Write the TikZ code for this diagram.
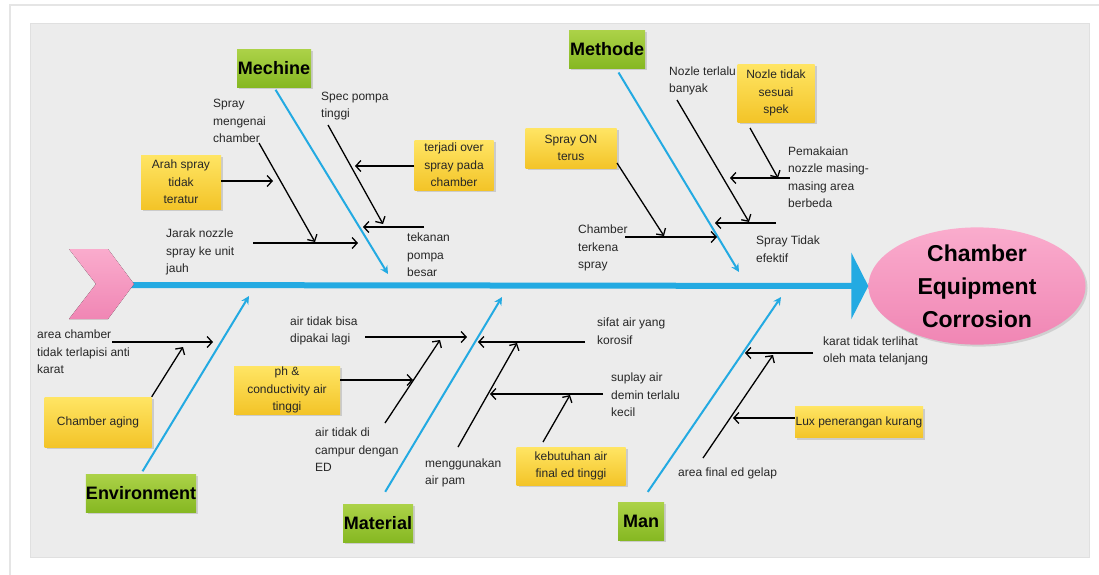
\documentclass[tikz,border=0pt]{standalone}
\usepackage{fontspec}
\setmainfont{Liberation Sans}
\usetikzlibrary{arrows.meta,shapes.geometric,shadows}
\definecolor{panel}{RGB}{236,236,236}
\definecolor{spineblue}{RGB}{35,170,226}
\definecolor{yeltop}{RGB}{255,229,100}
\definecolor{yelbot}{RGB}{243,196,40}
\definecolor{grntop}{RGB}{172,210,72}
\definecolor{grnbot}{RGB}{134,184,34}
\definecolor{pinktop}{RGB}{250,172,205}
\definecolor{pinkbot}{RGB}{240,134,180}
\tikzset{txt/.style={font=\fontsize{12}{17.5}\selectfont,text=black!85,align=left,inner sep=0pt,anchor=west},
note/.style={font=\fontsize{12}{17.5}\selectfont,text=black!85,align=center,inner sep=0pt,top color=yeltop,bottom color=yelbot,drop shadow={shadow xshift=2pt,shadow yshift=-2pt,opacity=.3}},
cat/.style={font=\fontsize{18}{20}\selectfont\bfseries,inner sep=0pt,minimum height=38pt,top color=grntop,bottom color=grnbot,drop shadow={shadow xshift=2pt,shadow yshift=-2pt,opacity=.3}},
effect/.style={ellipse,font=\fontsize{23}{33}\selectfont\bfseries,align=center,inner sep=0pt,minimum width=217pt,minimum height=116pt,top color=pinktop,bottom color=pinkbot,drop shadow={shadow xshift=2pt,shadow yshift=-2pt,opacity=.25}},
spine/.style={draw=spineblue,line width=6pt,-{Triangle[length=17pt,width=66pt]}},
bone/.style={draw=spineblue,line width=2pt,-{Stealth[length=8pt,width=8pt]}},
cause/.style={draw=black,line width=1.3pt,-{Straight Barb[length=5pt,width=11pt]}}}
\begin{document}
\begin{tikzpicture}[x=1pt,y=-1pt]
\useasboundingbox (0,0) rectangle (1099,574);
\fill[white] (0,0) rectangle (1099,574);
\draw[black!10,line width=1.5pt] (10,590) -- (10,5) -- (1110,5);
\fill[panel,draw=black!12,line width=.6pt] (30,23) rectangle (1089,557);
\coordinate (tail) at (125,285);
\node[effect] (effect) at (977,286) {Chamber\\Equipment\\Corrosion};
\draw[spine] (tail) -- (effect.west);
\fill[top color=pinktop,bottom color=pinkbot] (69,249) -- (108,249) -- (134,284) -- (108,319) -- (69,319) -- (96,284) -- cycle;
\node[cat,minimum width=74pt] (mechine) at (274,68) {Mechine};
\node[cat,minimum width=76pt] (methode) at (607,49) {Methode};
\node[cat,minimum width=106pt] (environment) at (141,493) {Environment};
\node[cat,minimum width=70pt] (material) at (378,523) {Material};
\node[cat,minimum width=46pt] (man) at (641,521) {Man};
\coordinate (mechtip) at (388,274);
\coordinate (methtip) at (739,272);
\coordinate (envtip) at (249,296);
\coordinate (mattip) at (502,297);
\coordinate (mantip) at (781,297);
\draw[bone,shorten <=3pt] (mechine.south) -- (mechtip);
\draw[bone,shorten <=5pt] (methode.-65) -- (methtip);
\draw[bone,shorten <=3pt] (environment.north) -- (envtip);
\draw[bone,shorten <=14pt] (material.north) -- (mattip);
\draw[bone,shorten <=12pt] (man.north) -- (mantip);
\node[note,minimum width=80pt,minimum height=54pt] (arah) at (181,182) {Arah spray\\tidak\\teratur};
\node[note,minimum width=79pt,minimum height=50pt] (over) at (454,165) {terjadi over\\spray pada\\chamber};
\node[note,minimum width=91pt,minimum height=40pt] (sprayon) at (571,148) {Spray ON\\terus};
\node[note,minimum width=77pt,minimum height=58pt] (nozletidak) at (776,93) {Nozle tidak\\sesuai\\spek};
\node[note,minimum width=107pt,minimum height=50pt] (aging) at (98,422) {Chamber aging};
\node[note,minimum width=106pt,minimum height=48pt] (ph) at (287,390) {ph \&\\conductivity air\\tinggi};
\node[note,minimum width=109pt,minimum height=38pt] (kebutuhan) at (571,466) {kebutuhan air\\final ed tinggi};
\node[note,minimum width=128pt,minimum height=31pt] (lux) at (859,422) {Lux penerangan kurang};
\node[txt] (sprmeng) at (213,121) {Spray\\mengenai\\chamber};
\node[txt] (jarak) at (166,252) {Jarak nozzle\\spray ke unit\\jauh};
\node[txt] (spec) at (321,106) {Spec pompa\\tinggi};
\node[txt] (tekanan) at (407,255) {tekanan\\pompa\\besar};
\node[txt] (chterkena) at (578,248) {Chamber\\terkena\\spray};
\node[txt] (nozleterlalu) at (669,81) {Nozle terlalu\\banyak};
\node[txt] (pemakaian) at (788,177) {Pemakaian\\nozzle masing-\\masing area\\berbeda};
\node[txt] (spraytidak) at (756,249) {Spray Tidak\\efektif};
\node[txt] (areach) at (37,352) {area chamber\\tidak terlapisi anti\\karat};
\node[txt] (airbisa) at (290,331) {air tidak bisa\\dipakai lagi};
\node[txt] (aircampur) at (315,450) {air tidak di\\campur dengan\\ED};
\node[txt] (sifat) at (597,331) {sifat air yang\\korosif};
\node[txt] (airpam) at (425,473) {menggunakan\\air pam};
\node[txt] (suplay) at (611,395) {suplay air\\demin terlalu\\kecil};
\node[txt] (karat) at (823,351) {karat tidak terlihat\\oleh mata telanjang};
\node[txt] (gelap) at (678,473) {area final ed gelap};
\coordinate (a1) at (273,181);
\coordinate (s1) at (259,143); \coordinate (s2) at (315,242);
\coordinate (j1) at (253,243); \coordinate (j2) at (358,243);
\coordinate (p1) at (328,125); \coordinate (p2) at (383,224);
\coordinate (o1) at (355,166);
\coordinate (t1) at (424,227); \coordinate (t2) at (363,227);
\draw[cause] (arah.east |- a1) -- (a1);
\draw[cause] (s1) -- (s2);
\draw[cause] (j1) -- (j2);
\draw[cause] (p1) -- (p2);
\draw[cause] (over.west |- o1) -- (o1);
\draw[cause] (t1) -- (t2);
\coordinate (so1) at (617,163); \coordinate (so2) at (664,236);
\coordinate (c1) at (625,237); \coordinate (c2) at (717,237);
\coordinate (n1) at (677,100); \coordinate (n2) at (749,222);
\coordinate (nt1) at (750,128); \coordinate (nt2) at (778,178);
\coordinate (pm1) at (790,178); \coordinate (pm2) at (730,178);
\coordinate (st1) at (776,223); \coordinate (st2) at (715,223);
\draw[cause] (so1) -- (so2);
\draw[cause] (c1) -- (c2);
\draw[cause] (n1) -- (n2);
\draw[cause] (nt1) -- (nt2);
\draw[cause] (pm1) -- (pm2);
\draw[cause] (st1) -- (st2);
\coordinate (ac1) at (112,342); \coordinate (ac2) at (213,342);
\coordinate (ag2) at (183,347);
\draw[cause] (ac1) -- (ac2);
\draw[cause] (aging.north east) -- (ag2);
\coordinate (ab1) at (365,337); \coordinate (ab2) at (467,337);
\coordinate (ph2) at (413,380);
\coordinate (ed1) at (385,423); \coordinate (ed2) at (440,340);
\coordinate (sf1) at (585,342); \coordinate (sf2) at (478,342);
\coordinate (pa1) at (458,447); \coordinate (pa2) at (517,343);
\coordinate (sp1) at (603,394); \coordinate (sp2) at (490,394);
\coordinate (kb1) at (543,442); \coordinate (kb2) at (570,395);
\draw[cause] (ab1) -- (ab2);
\draw[cause] (ph.east |- ph2) -- (ph2);
\draw[cause] (ed1) -- (ed2);
\draw[cause] (sf1) -- (sf2);
\draw[cause] (pa1) -- (pa2);
\draw[cause] (sp1) -- (sp2);
\draw[cause] (kb1) -- (kb2);
\coordinate (kr1) at (813,353); \coordinate (kr2) at (745,353);
\coordinate (lx2) at (733,418);
\coordinate (gl1) at (703,458); \coordinate (gl2) at (773,355);
\draw[cause] (kr1) -- (kr2);
\draw[cause] (lux.west |- lx2) -- (lx2);
\draw[cause] (gl1) -- (gl2);
\end{tikzpicture}
\end{document}
